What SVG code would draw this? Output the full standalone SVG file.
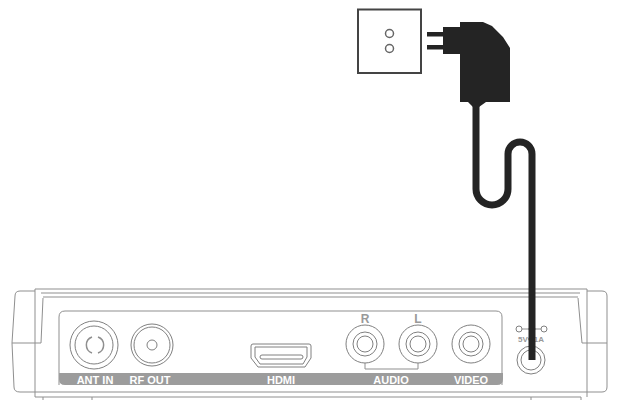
<svg xmlns="http://www.w3.org/2000/svg" width="618" height="400" viewBox="0 0 618 400">
<style>
.l{fill:none;stroke:#8f8f8f;stroke-width:1}
.c{fill:#fff;stroke:#808080;stroke-width:1}
.t{font-family:"Liberation Sans",Arial,sans-serif;font-weight:bold;font-size:11px;fill:#fff;text-anchor:middle}
.g{font-family:"Liberation Sans",Arial,sans-serif;font-weight:bold;font-size:11px;fill:#999;text-anchor:middle}
.k{fill:#242424}
</style>
<rect width="618" height="400" fill="#fff"/>
<g id="receiver">
<path class="l" d="M35 397H581M35 289H587M41 293H580M43 297H578M43 298L41 343H12M578 298L582 343H607M35 289V397M587 289V397"/>
<path class="l" d="M35 291H20Q15 291 15 296L12 343L14 387Q14 392 20 392H35M587 291H602Q607 291 607 296V387Q607 392 602 392H587M35 392H587M43 397V400M92 397V400M531 397V400M581 397V400"/>
<path class="l" d="M59 385V317Q59 311 65 311H496Q502 311 502 317V385"/>
<path d="M59 373H503V379Q503 385 497 385H65Q59 385 59 379Z" fill="#9c9c9c"/>
</g>
<g id="ant-in">
<circle class="c" cx="94" cy="345" r="24"/><circle class="c" cx="94" cy="345" r="19"/>
<path class="l" style="stroke-width:1.500" d="M92 337A8.500 8.500 0 0 0 92 353M98 337A8.500 8.500 0 0 1 98 353"/>
<text class="t" x="95" y="384">ANT IN</text>
</g>
<g id="rf-out">
<circle class="c" cx="152" cy="345" r="21"/><circle class="c" cx="152" cy="345" r="18"/><circle class="c" cx="152" cy="345" r="5"/>
<text class="t" x="150" y="384">RF OUT</text>
</g>
<g id="hdmi">
<path class="c" d="M253 344H309Q311 344 311 346V358L305 367H258L251 358V346Q251 344 253 344Z"/>
<path class="c" d="M255 347H307V357L303 364H260L255 357Z"/>
<rect class="c" x="260" y="355" width="43" height="4" rx="2"/>
<text class="t" x="281" y="384">HDMI</text>
</g>
<g id="audio">
<text class="g" x="365" y="323" style="font-size:12px">R</text>
<text class="g" x="418" y="323" style="font-size:12px">L</text>
<path class="l" d="M365 363V369H418V363"/>
<circle class="c" cx="365" cy="344" r="19"/><circle class="c" cx="365" cy="344" r="12"/><circle class="c" cx="365" cy="344" r="8"/>
<circle class="c" cx="418" cy="344" r="19"/><circle class="c" cx="418" cy="344" r="12"/><circle class="c" cx="418" cy="344" r="8"/>
<text class="t" x="391" y="384">AUDIO</text>
</g>
<g id="video">
<circle class="c" cx="471" cy="344" r="19"/><circle class="c" cx="471" cy="344" r="12"/><circle class="c" cx="471" cy="344" r="8"/>
<text class="t" x="471" y="384">VIDEO</text>
</g>
<g id="power">
<path class="l" d="M519 329H544"/>
<circle class="c" cx="519" cy="329" r="3"/><circle class="c" cx="532" cy="329" r="3"/><circle class="c" cx="544" cy="329" r="3"/>
<text class="g" x="531" y="342" style="font-size:8px">5V⎓1A</text>
<circle class="c" cx="531" cy="360" r="14"/><circle class="c" cx="531" cy="360" r="10"/>
</g>
<g id="connectors">
<path d="M476 104V189A16 16 0 0 0 508 189V154A12 12 0 0 1 532 154V360" fill="none" stroke="#242424" stroke-width="7"/>
</g>
<g id="socket">
<rect x="358" y="9.500" width="63" height="63.500" fill="#fff" stroke="#444" stroke-width="2"/>
<circle cx="389.500" cy="33.500" r="4" fill="#fff" stroke="#666" stroke-width="1.500"/>
<circle cx="389.500" cy="48.500" r="4" fill="#fff" stroke="#666" stroke-width="1.500"/>
</g>
<g id="plug">
<rect class="k" x="427" y="32" width="17" height="4.500"/>
<rect class="k" x="427" y="45" width="17" height="4.500"/>
<path class="k" d="M443 27H460V22H483L492 26L503 37L510 48V102H486L479 107H473L468 102H460V54H443Z"/>
</g>
</svg>
